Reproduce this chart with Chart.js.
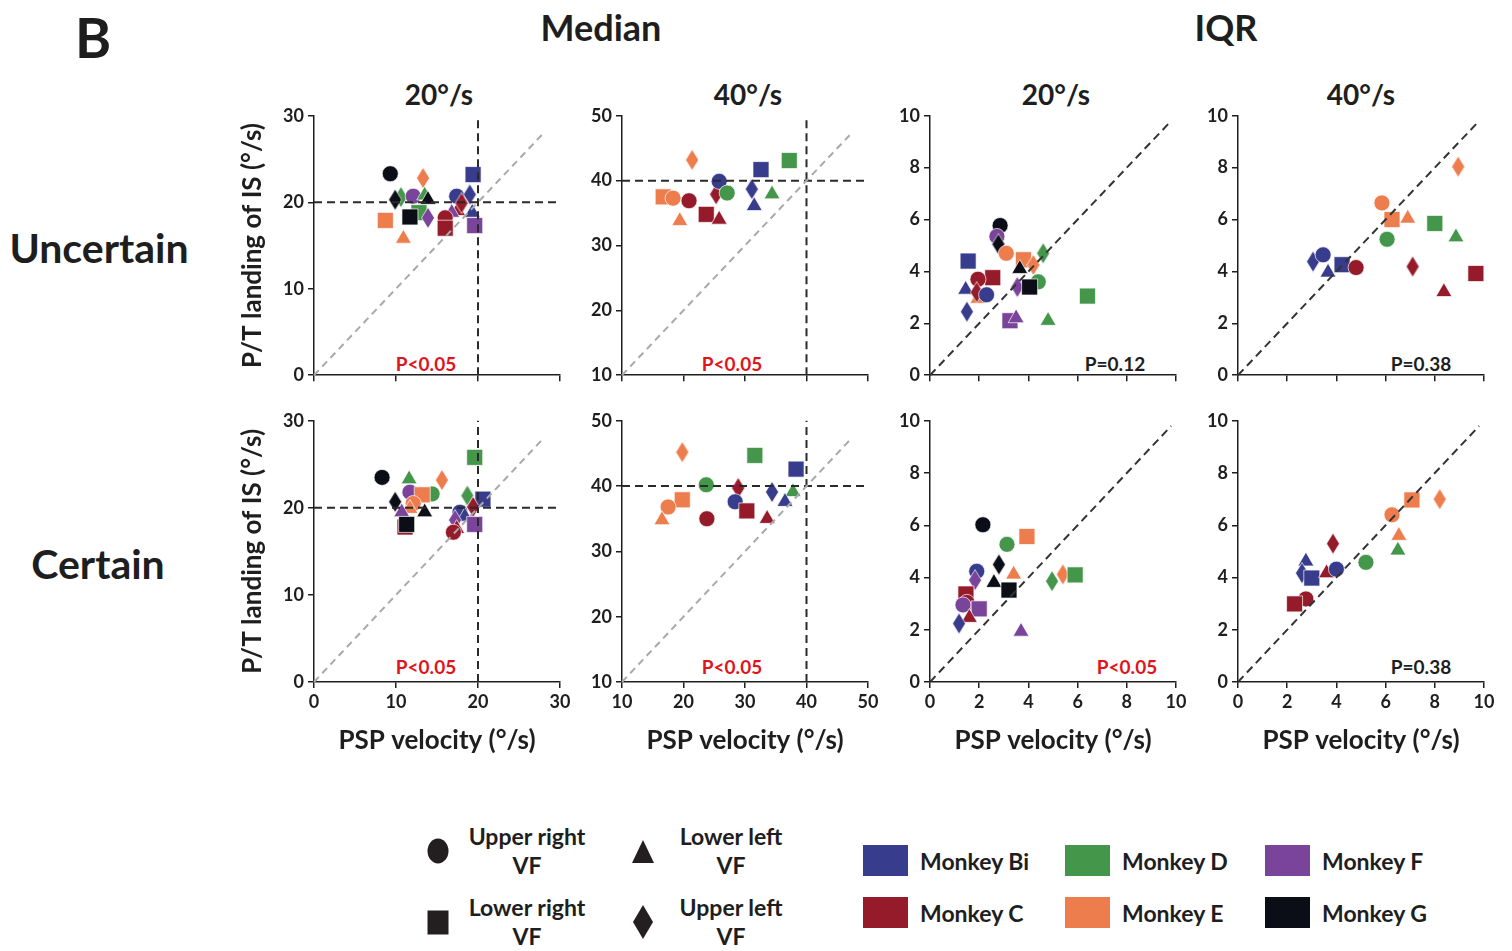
<!DOCTYPE html>
<html><head><meta charset="utf-8">
<script src="https://cdn.jsdelivr.net/npm/chart.js@4.4.1/dist/chart.umd.min.js"></script>
<style>
body{margin:0;background:#fff;width:1512px;height:951px;position:relative;overflow:hidden;font-family:Lato,"Open Sans",sans-serif;font-weight:700;color:#1e1e1e}
.t{position:absolute;white-space:nowrap;transform:translate(-50%,-50%);font-weight:700;line-height:1}
.l{position:absolute;white-space:nowrap;transform:translateY(-50%);font-weight:700;line-height:1}
canvas{position:absolute}
.sw{position:absolute;width:45px;height:31px}
</style></head><body>
<div class="t" style="left:93px;top:37px;font-size:55px">B</div>
<div class="t" style="left:601px;top:27px;font-size:36px">Median</div>
<div class="t" style="left:1226px;top:27px;font-size:36px">IQR</div>
<div class="t" style="left:439px;top:94px;font-size:28px">20°/s</div>
<div class="t" style="left:748px;top:94px;font-size:28px">40°/s</div>
<div class="t" style="left:1056px;top:94px;font-size:28px">20°/s</div>
<div class="t" style="left:1361px;top:94px;font-size:28px">40°/s</div>
<div class="t" style="left:99px;top:247px;font-size:41px">Uncertain</div>
<div class="t" style="left:98px;top:563px;font-size:41px">Certain</div>
<div id="pv"></div>
<div id="legend"></div>
<script>
// ---- monkeys & quadrants ----
const monkeyNames = ['Bi','C','D','E','F','G'];
const monkeyColors = ['#383c8c','#961b2a','#44964b','#ee7d4e','#7b449b','#0b0d17'];
const quadrantCodes = ['UR','LR','LL','UL'];
const quadrantLabels = ['Upper right','Lower right','Lower left','Upper left'];
const quadrantShapes = ['circle','rect','triangle','diamond'];

// ---- data: [monkey, quadrant, PSP velocity, P/T landing] ----
const uncertainMedian20 = [
 ['E','LR',8.7,17.9],['E','LL',10.9,15.8],['G','UR',9.3,23.3],['E','UL',13.3,22.8],
 ['D','UL',10.6,20.6],['G','UL',9.9,20.3],['D','LR',12.8,18.8],['F','UR',12.1,20.7],
 ['D','LL',13.5,20.8],['G','LL',13.9,20.3],['G','LR',11.7,18.3],['F','UL',13.9,18.2],
 ['Bi','LR',19.4,23.2],['Bi','UR',17.4,20.7],['Bi','UL',19.0,20.9],['C','LL',17.5,19.0],
 ['C','UL',18.0,19.9],['F','LL',16.8,18.8],['C','UR',16.0,18.2],['Bi','LL',19.3,18.8],
 ['C','LR',16.0,17.0],['F','LR',19.6,17.3]
];
const uncertainMedian40 = [
 ['E','UL',21.4,43.2],['Bi','LR',32.6,41.7],['D','LR',37.2,43.1],['E','LR',16.7,37.5],
 ['E','UR',18.3,37.3],['C','UR',20.9,36.9],['C','UL',25.3,37.9],['Bi','UR',25.8,39.9],
 ['D','UR',27.1,38.1],['C','LR',23.7,34.8],['C','LL',25.8,34.0],['E','LL',19.4,33.8],
 ['Bi','UL',31.1,38.7],['Bi','LL',31.5,36.1],['D','LL',34.4,37.9]
];
const uncertainIQR20 = [
 ['G','UR',2.85,5.77],['F','UR',2.72,5.35],['G','UL',2.78,5.05],['E','UR',3.1,4.7],
 ['D','UL',4.6,4.7],['E','LR',3.8,4.45],['E','UL',4.2,4.25],['Bi','LR',1.55,4.4],
 ['G','LL',3.65,4.1],['C','LR',2.55,3.76],['C','UR',1.95,3.7],['D','UR',4.4,3.6],
 ['F','UL',3.55,3.4],['G','LR',4.05,3.4],['D','LR',6.4,3.05],['Bi','LL',1.45,3.3],
 ['E','LL',1.95,2.95],['C','UL',1.9,3.2],['Bi','UR',2.3,3.1],['Bi','UL',1.5,2.45],
 ['F','LR',3.25,2.1],['F','LL',3.5,2.2],['D','LL',4.8,2.1]
];
const uncertainIQR40 = [
 ['E','UL',8.95,8.04],['E','UR',5.85,6.64],['E','LR',6.26,6.0],['E','LL',6.9,6.04],
 ['D','LR',8.0,5.85],['D','LL',8.86,5.32],['D','UR',6.06,5.24],['Bi','UL',3.05,4.38],
 ['Bi','UR',3.46,4.64],['Bi','LL',3.66,3.96],['Bi','LR',4.23,4.26],['C','UR',4.8,4.15],
 ['C','UL',7.1,4.19],['C','LR',9.67,3.92],['C','LL',8.37,3.21]
];
const certainMedian20 = [
 ['G','UR',8.3,23.5],['D','LL',11.6,23.3],['E','UL',15.6,23.2],['D','UR',14.4,21.6],
 ['F','UR',11.7,21.8],['E','LR',13.2,21.5],['G','UL',9.9,20.7],['E','UR',12.1,20.5],
 ['E','LL',11.7,19.9],['F','LL',10.7,19.5],['G','LL',13.5,19.5],['C','LR',11.1,17.8],
 ['G','LR',11.3,18.1],['D','LR',19.6,25.8],['D','UL',18.7,21.4],['Bi','LR',20.6,21.0],
 ['C','UL',19.4,20.1],['Bi','UR',17.8,19.5],['Bi','LL',18.4,19.0],['F','UL',17.2,18.6],
 ['F','LR',19.6,18.1],['C','LL',17.4,17.6],['C','UR',17.0,17.2]
];
const certainMedian40 = [
 ['E','UL',19.8,45.2],['D','LR',31.6,44.7],['Bi','LR',38.3,42.6],['D','UR',23.7,40.2],
 ['C','UL',28.9,39.7],['Bi','UL',34.4,39.1],['D','LL',37.8,39.1],['E','LR',19.8,37.9],
 ['E','UR',17.5,36.8],['Bi','UR',28.4,37.6],['Bi','LL',36.5,37.6],['C','LR',30.3,36.2],
 ['E','LL',16.5,34.8],['C','UR',23.8,35.0],['C','LL',33.6,35.0]
];
const certainIQR20 = [
 ['G','UR',2.15,6.02],['E','LR',3.94,5.57],['D','UR',3.13,5.27],['G','UL',2.8,4.5],
 ['Bi','UR',1.9,4.24],['E','LL',3.4,4.12],['F','UL',1.83,3.9],['G','LL',2.6,3.8],
 ['G','LR',3.21,3.52],['D','UL',4.96,3.86],['E','UL',5.4,4.12],['D','LR',5.9,4.1],
 ['C','LR',1.46,3.37],['C','UR',1.5,3.05],['F','UR',1.34,2.95],['F','LR',2.0,2.8],
 ['C','LL',1.6,2.46],['Bi','UL',1.18,2.24],['F','LL',3.7,1.93]
];
const certainIQR40 = [
 ['E','UL',8.2,7.0],['E','LR',7.07,6.97],['E','UR',6.26,6.4],['E','LL',6.54,5.6],
 ['D','LL',6.5,5.04],['D','UR',5.2,4.58],['C','UL',3.86,5.3],['Bi','LL',2.76,4.62],
 ['Bi','UL',2.6,4.17],['Bi','LR',3.0,3.98],['C','LL',3.6,4.17],['Bi','UR',4.0,4.32],
 ['C','UR',2.76,3.18],['C','LR',2.3,2.99]
];

// ---- axis ranges & reference lines ----
const median20Range = [0, 30, 10];
const median40Range = [10, 50, 10];
const iqrRange = [0, 10, 2];
const median20Threshold = 20, median40Threshold = 40;
const median20DiagEnd = 28, median40DiagEnd = 47, iqrDiagEnd = 9.8;
const pValues = ['P<0.05','P<0.05','P=0.12','P=0.38','P<0.05','P<0.05','P<0.05','P=0.38'];

// ---- geometry ----
const colL = [314, 622, 930, 1238], colW = 246;
const rowT = [113, 418], rowH = [265, 264];
const panels = [
 {d:uncertainMedian20, r:median20Range, thr:median20Threshold, de:median20DiagEnd, kind:'med'},
 {d:uncertainMedian40, r:median40Range, thr:median40Threshold, de:median40DiagEnd, kind:'med'},
 {d:uncertainIQR20, r:iqrRange, de:iqrDiagEnd, kind:'iqr'},
 {d:uncertainIQR40, r:iqrRange, de:iqrDiagEnd, kind:'iqr'},
 {d:certainMedian20, r:median20Range, thr:median20Threshold, de:median20DiagEnd, kind:'med'},
 {d:certainMedian40, r:median40Range, thr:median40Threshold, de:median40DiagEnd, kind:'med'},
 {d:certainIQR20, r:iqrRange, de:iqrDiagEnd, kind:'iqr'},
 {d:certainIQR40, r:iqrRange, de:iqrDiagEnd, kind:'iqr'}
];

Chart.defaults.font.family = 'Lato, "Open Sans", sans-serif';
Chart.defaults.font.weight = 'bold';
Chart.defaults.color = '#1e1e1e';

function diamondCanvas(color){
  const c=document.createElement('canvas'); c.width=14; c.height=22;
  const g=c.getContext('2d'); g.beginPath();
  g.moveTo(7,0.5); g.lineTo(13.5,11); g.lineTo(7,21.5); g.lineTo(0.5,11); g.closePath();
  g.fillStyle=color; g.fill(); g.strokeStyle='rgba(255,255,255,0.85)'; g.lineWidth=0.8; g.stroke(); return c;
}
const diamonds = {};
monkeyNames.forEach((m,i)=>diamonds[m]=diamondCanvas(monkeyColors[i]));
const radiusOf = {circle:8, rect:11.3, triangle:9.2, diamond:7};

panels.forEach((p,idx)=>{
  const row = idx<4?0:1, col = idx%4;
  const yW = col===0?81:45;
  const xH = row===1?78:12;
  const L = colL[col], T = rowT[row];
  const cv = document.createElement('canvas');
  cv.width = yW + colW + 14; cv.height = 12 + rowH[row] + xH;
  cv.style.left = (L-yW)+'px'; cv.style.top = (T-12)+'px';
  document.body.appendChild(cv);
  const [mn,mx,st] = p.r;
  const shape = q => quadrantShapes[quadrantCodes.indexOf(q)];
  const color = m => monkeyColors[monkeyNames.indexOf(m)];
  const pts = {
    type:'scatter', order:1, clip:false,
    data: p.d.map(a=>({x:a[2], y:a[3]})),
    pointStyle: p.d.map(a=>shape(a[1])==='diamond'?diamonds[a[0]]:shape(a[1])),
    pointRadius: p.d.map(a=>radiusOf[shape(a[1])]),
    pointBackgroundColor: p.d.map(a=>color(a[0])),
    pointBorderColor:'rgba(255,255,255,0.85)', pointBorderWidth:0.8
  };
  const line = (data,c,dash)=>({type:'scatter', showLine:true, order:0, data, borderColor:c,
    borderDash:dash, borderWidth:2, pointRadius:0, fill:false, clip:false});
  const ds = [pts];
  if(p.kind==='med'){
    ds.push(line([{x:mn,y:mn},{x:p.de,y:p.de}], '#a9a9a9', [7,5]));
    ds.push(line([{x:mn,y:p.thr},{x:mx,y:p.thr}], '#2a2a2a', [8,5]));
    ds.push(line([{x:p.thr,y:mn},{x:p.thr,y:mx}], '#2a2a2a', [8,5]));
  } else {
    ds.push(line([{x:mn,y:mn},{x:p.de,y:p.de}], '#333', [8,5]));
  }
  new Chart(cv, {
    type:'scatter',
    data:{datasets:ds},
    options:{
      responsive:false, animation:false, devicePixelRatio:1,
      layout:{padding:{top:12,right:14,left:0,bottom:0}},
      plugins:{legend:{display:false}, tooltip:{enabled:false}},
      scales:{
        x:{type:'linear', min:mn, max:mx,
          ticks:{stepSize:st, font:{size:18,weight:'bold'}, color:'#1e1e1e', padding:3, maxRotation:0, autoSkip:false,
            callback: v => row===0 ? '' : v},
          grid:{drawOnChartArea:false, drawTicks:true, tickLength:6, color:'#1e1e1e', lineWidth:1.5},
          border:{color:'#1e1e1e', width:1.5},
          title:{display:row===1, text:'PSP velocity (°/s)', font:{size:26,weight:'bold'}, color:'#1e1e1e', padding:4},
          afterFit:s=>{s.height=xH;}
        },
        y:{type:'linear', min:mn, max:mx,
          ticks:{stepSize:st, font:{size:18,weight:'bold'}, color:'#1e1e1e', padding:4},
          grid:{drawOnChartArea:false, drawTicks:true, tickLength:6, color:'#1e1e1e', lineWidth:1.5},
          border:{color:'#1e1e1e', width:1.5},
          title:{display:col===0, text:'P/T landing of IS (°/s)', font:{size:26,weight:'bold'}, color:'#1e1e1e', padding:4},
          afterFit:s=>{s.width=yW;}
        }
      }
    }
  });
});

// p-values
const pvPos = [[426,363],[732,363],[1115,363],[1421,363],[426,666],[732,666],[1127,666],[1421,666]];
const pv = document.getElementById('pv');
pValues.forEach((t,i)=>{
  const d=document.createElement('div'); d.className='t';
  d.style.left=pvPos[i][0]+'px'; d.style.top=pvPos[i][1]+'px'; d.style.fontSize='19px';
  d.style.color = t.startsWith('P<') ? '#e0151b' : '#1e1e1e';
  d.textContent=t; pv.appendChild(d);
});

// legend
const lg = document.getElementById('legend');
const shapeSvg = {
  circle:'<ellipse cx="11" cy="13" rx="10.5" ry="12.5" fill="#231f20"/>',
  rect:'<rect x="0.5" y="0.5" width="21" height="24" fill="#231f20"/>',
  triangle:'<polygon points="11,1 22,24 0,24" fill="#231f20"/>',
  diamond:'<polygon points="11,0 21,17 11,34 1,17" fill="#231f20"/>'
};
const shapeBox = {circle:[22,26],rect:[22,25],triangle:[22,25],diamond:[22,34]};
const qPos = [[438,527,851],[438,527,922],[643,731,851],[643,731,922]];
quadrantShapes.forEach((s,i)=>{
  const [sx,tx,y] = qPos[i]; const [w,h]=shapeBox[s];
  const sv=document.createElement('div');
  sv.style.cssText=`position:absolute;left:${sx-w/2}px;top:${y-h/2}px;width:${w}px;height:${h}px`;
  sv.innerHTML=`<svg width="${w}" height="${h}">${shapeSvg[s]}</svg>`; lg.appendChild(sv);
  const t=document.createElement('div'); t.className='t';
  t.style.cssText+=`left:${tx}px;top:${y}px;font-size:23px;text-align:center;line-height:29px`;
  t.innerHTML=quadrantLabels[i]+'<br>VF'; lg.appendChild(t);
});
const swX = [863,1065,1265], swY=[845,897];
const mOrder = [['Bi','D','F'],['C','E','G']];
mOrder.forEach((r,ri)=>r.forEach((m,ci)=>{
  const s=document.createElement('div'); s.className='sw';
  s.style.left=swX[ci]+'px'; s.style.top=swY[ri]+'px';
  s.style.background=monkeyColors[monkeyNames.indexOf(m)]; lg.appendChild(s);
  const t=document.createElement('div'); t.className='l';
  t.style.left=(swX[ci]+57)+'px'; t.style.top=(swY[ri]+16)+'px'; t.style.fontSize='23px';
  t.textContent='Monkey '+m; lg.appendChild(t);
}));
</script>
</body></html>
